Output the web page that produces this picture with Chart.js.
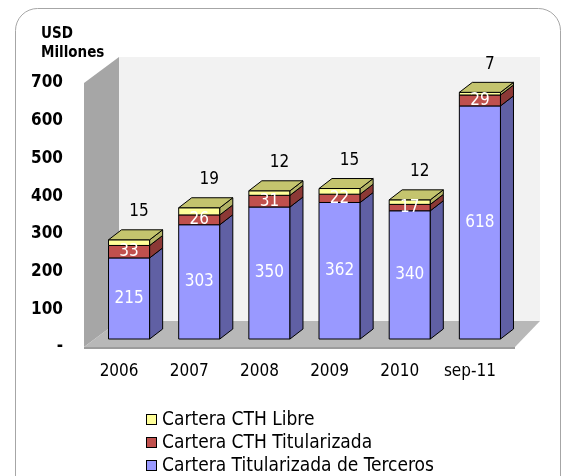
<!DOCTYPE html>
<html>
<head>
<meta charset="utf-8">
<script src="https://cdn.jsdelivr.net/npm/chart.js@4.4.1/dist/chart.umd.min.js"></script>
<style>
    html, body { margin: 0; padding: 0; background: #fff; }
    #wrap { width: 562px; height: 476px; }
</style>
</head>
<body>
<div id="wrap"><canvas id="chart" width="562" height="476"></canvas></div>
<script>
// Chart data
const categories = ['2006', '2007', '2008', '2009', '2010', 'sep-11'];
const carteraTerceros = [215, 303, 350, 362, 340, 618];
const carteraTitularizada = [33, 26, 31, 22, 17, 29];
const carteraLibre = [15, 19, 12, 15, 12, 7];
const seriesNames = ['Cartera Titularizada de Terceros', 'Cartera CTH Titularizada', 'Cartera CTH Libre'];
const yMin = 0;
const yMax = 700;
const yStep = 100;

const FONT = "'DejaVu Sans Condensed', 'DejaVu Sans', sans-serif";

// front / side / top colours for each series
const palette = [
    { front: '#9999FF', side: '#6060A4', top: '#7A7ACC' },
    { front: '#C0504D', side: '#8C3936', top: '#9A403D' },
    { front: '#FFFF99', side: '#B3B366', top: '#C4C46E' }
];

const WALL_DEPTH = { x: 35, y: -26 };
const BAR_SHIFT = { x: 10, y: -8 };
const BAR_DEPTH = { x: 13, y: -10 };

function poly(ctx, pts, fill, stroke) {
    ctx.beginPath();
    ctx.moveTo(pts[0][0], pts[0][1]);
    for (let i = 1; i < pts.length; i++) ctx.lineTo(pts[i][0], pts[i][1]);
    ctx.closePath();
    if (fill) { ctx.fillStyle = fill; ctx.fill(); }
    if (stroke) { ctx.strokeStyle = stroke; ctx.lineWidth = 1; ctx.stroke(); }
}

// Draws the 3D walls, the boxes, labels, legend and frame
const box3d = {
    id: 'box3d',
    beforeDraw(chart) {
        const ctx = chart.ctx;
        const area = chart.chartArea;
        const ys = chart.scales.y;
        const top = ys.getPixelForValue(yMax);
        const bottom = ys.getPixelForValue(yMin);
        const L = area.left, R = area.right;
        const dx = WALL_DEPTH.x, dy = WALL_DEPTH.y;
        ctx.save();
        ctx.fillStyle = '#F2F2F2';
        ctx.fillRect(L + dx, top + dy, R - L, bottom - top);
        poly(ctx, [[L, top], [L + dx, top + dy], [L + dx, bottom + dy], [L, bottom]], '#A6A6A6');
        poly(ctx, [[L, bottom], [R + 10, bottom], [R + dx, bottom + dy], [L + dx, bottom + dy]], '#B8B8B8');
        poly(ctx, [[L, bottom], [R + 10, bottom], [R + 10, bottom + 2], [L, bottom + 2]], '#9C9C9C');
        ctx.restore();
    },
    beforeDatasetDraw() {
        return false;
    },
    afterDatasetsDraw(chart) {
        const ctx = chart.ctx;
        const nSets = chart.data.datasets.length;
        const labels = [];
        ctx.save();
        ctx.lineJoin = 'round';
        for (let i = 0; i < categories.length; i++) {
            for (let d = 0; d < nSets; d++) {
                const el = chart.getDatasetMeta(d).data[i];
                const p = el.getProps(['x', 'y', 'base', 'width'], true);
                const left = p.x - p.width / 2 + BAR_SHIFT.x;
                const right = left + p.width;
                const yt = p.y + BAR_SHIFT.y;
                const yb = p.base + BAR_SHIFT.y;
                const c = palette[d];
                const bx = BAR_DEPTH.x, by = BAR_DEPTH.y;
                // front face
                poly(ctx, [[left, yt], [right, yt], [right, yb], [left, yb]], c.front, '#000');
                // side face
                poly(ctx, [[right, yt], [right + bx, yt + by], [right + bx, yb + by], [right, yb]], c.side, '#000');
                if (d === nSets - 1) {
                    poly(ctx, [[left, yt], [left + bx, yt + by], [right + bx, yt + by], [right, yt]], c.top, '#000');
                }
                const value = chart.data.datasets[d].data[i];
                if (d === nSets - 1) {
                    labels.push({ text: String(value), x: (left + right) / 2 + 10, y: yt - 28, color: '#000' });
                } else {
                    labels.push({ text: String(value), x: (left + right) / 2, y: (yt + yb) / 2, color: '#fff' });
                }
            }
        }
        ctx.font = '17px ' + FONT;
        ctx.textAlign = 'center';
        ctx.textBaseline = 'middle';
        labels.forEach((lb) => {
            ctx.fillStyle = lb.color;
            ctx.fillText(lb.text, lb.x, lb.y);
        });
        ctx.restore();
    },
    afterDraw(chart) {
        const ctx = chart.ctx;
        ctx.save();
        // axis title
        ctx.fillStyle = '#000';
        ctx.font = 'bold 15px ' + FONT;
        ctx.textAlign = 'left';
        ctx.textBaseline = 'middle';
        ctx.fillText('USD', 41, 34);
        ctx.fillText('Millones', 41, 53);

        // legend, top series first
        ctx.font = '19px ' + FONT;
        for (let k = 0; k < seriesNames.length; k++) {
            const d = seriesNames.length - 1 - k;
            const cy = 420 + k * 23;
            ctx.fillStyle = palette[d].front;
            ctx.fillRect(146.5, cy - 5.5, 10, 10);
            ctx.strokeStyle = '#000';
            ctx.lineWidth = 1;
            ctx.strokeRect(146.5, cy - 5.5, 10, 10);
            ctx.fillStyle = '#000';
            ctx.fillText(seriesNames[d], 162, cy);
        }

        // rounded frame
        ctx.strokeStyle = '#A6A6A6';
        ctx.lineWidth = 1;
        ctx.beginPath();
        ctx.roundRect(15.5, 8.5, 545, 500, 22);
        ctx.stroke();
        ctx.restore();
    }
};

const ctx = document.getElementById('chart').getContext('2d');
new Chart(ctx, {
    type: 'bar',
    data: {
        labels: categories,
        datasets: [
            { label: seriesNames[0], data: carteraTerceros, backgroundColor: palette[0].front },
            { label: seriesNames[1], data: carteraTitularizada, backgroundColor: palette[1].front },
            { label: seriesNames[2], data: carteraLibre, backgroundColor: palette[2].front }
        ]
    },
    options: {
        responsive: false,
        animation: false,
        devicePixelRatio: 1,
        layout: {
            padding: { left: 0, top: 83, right: 57, bottom: 0 }
        },
        datasets: {
            bar: { categoryPercentage: 1, barPercentage: 0.586 }
        },
        plugins: {
            legend: { display: false },
            tooltip: { enabled: false }
        },
        scales: {
            x: {
                stacked: true,
                grid: { display: false, drawTicks: false },
                border: { display: false },
                ticks: {
                    color: '#000',
                    padding: 14,
                    maxRotation: 0,
                    autoSkip: false,
                    font: { family: FONT, size: 17 }
                },
                afterFit: (scale) => { scale.height = 129; }
            },
            y: {
                stacked: true,
                min: yMin,
                max: yMax,
                grid: { display: false, drawTicks: false },
                border: { display: false },
                ticks: {
                    stepSize: yStep,
                    color: '#000',
                    padding: 21,
                    font: { family: FONT, size: 17, weight: 'bold' },
                    callback: (v) => (v === 0 ? '-' : v)
                },
                afterFit: (scale) => { scale.width = 84; }
            }
        }
    },
    plugins: [box3d]
});
</script>
</body>
</html>
